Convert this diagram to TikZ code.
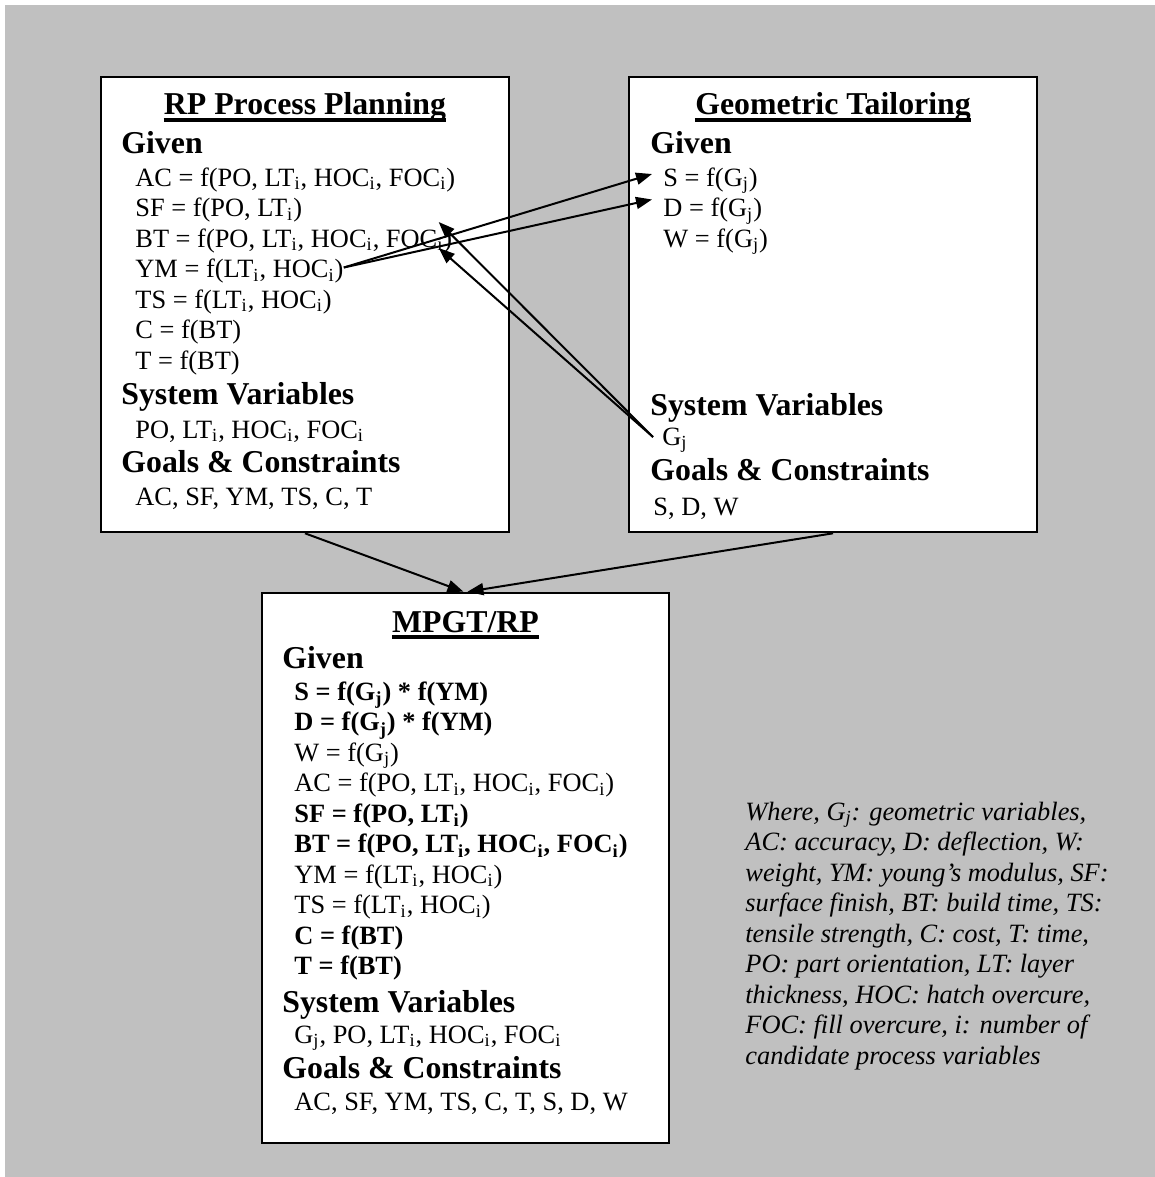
\documentclass[tikz,border=0pt]{standalone}
\usepackage{fontspec}
\setmainfont{Liberation Serif}
\usetikzlibrary{arrows.meta,fit}
\definecolor{bggrey}{RGB}{192,192,192}
\begin{document}
\begin{tikzpicture}[x=0.5pt,y=-0.5pt,
  panel/.style={draw=black, line width=1.3pt, fill=white, inner sep=0pt},
  ttl/.style={anchor=base, inner sep=0pt, font=\fontsize{15.9}{19}\selectfont\bfseries},
  head/.style={anchor=base west, inner sep=0pt, font=\fontsize{15.9}{19}\selectfont\bfseries},
  body/.style={anchor=base west, inner sep=0pt, font=\fontsize{13.2}{15}\selectfont},
  bbody/.style={body, font=\fontsize{13.2}{15}\selectfont\bfseries},
  note/.style={anchor=base west, inner sep=0pt, font=\fontsize{13.2}{15}\selectfont\itshape},
  link/.style={line width=1pt, -{Triangle[length=8pt,width=6pt]}},
  uline/.style={line width=1.6pt}
]
\useasboundingbox (0,0) rectangle (1155,1177);
\fill[bggrey] (5,5) rectangle (1155,1177);

% the three panels
\node[panel, fit={(101,77) (509,532)}] (rp) {};
\node[panel, fit={(629,77) (1037,532)}] (gt) {};
\node[panel, fit={(262,593) (669,1143)}] (mp) {};

% RP Process Planning
\node[ttl] (rpTitle) at (305,115) {RP Process Planning};
\draw[uline] ([yshift=-2.5pt]rpTitle.base west) -- ([yshift=-2.5pt]rpTitle.base east);
\node[head] (rpGiven) at (121,154) {Given};
\node[body] (rpAC) at (135,186) {AC = f(PO, LT\textsubscript{i}, HOC\textsubscript{i}, FOC\textsubscript{i})};
\node[body] (rpSF) at (135,216.5) {SF = f(PO, LT\textsubscript{i})};
\node[body] (rpBT) at (135,247) {BT = f(PO, LT\textsubscript{i}, HOC\textsubscript{i}, FOC\textsubscript{i})};
\node[body] (rpYM) at (135,277.5) {YM = f(LT\textsubscript{i}, HOC\textsubscript{i})};
\node[body] (rpTS) at (135,308) {TS = f(LT\textsubscript{i}, HOC\textsubscript{i})};
\node[body] (rpC) at (135,338.5) {C = f(BT)};
\node[body] (rpTime) at (135,369) {T = f(BT)};
\node[head] (rpSys) at (121,404) {System Variables};
\node[body] (rpVars) at (135,438) {PO, LT\textsubscript{i}, HOC\textsubscript{i}, FOC\textsubscript{i}};
\node[head] (rpGoals) at (121,472) {Goals \& Constraints};
\node[body] (rpGoalList) at (135,505) {AC, SF, YM, TS, C, T};

% Geometric Tailoring
\node[ttl] (gtTitle) at (833,115) {Geometric Tailoring};
\draw[uline] ([yshift=-2.5pt]gtTitle.base west) -- ([yshift=-2.5pt]gtTitle.base east);
\node[head] (gtGiven) at (650,154) {Given};
\node[body] (gtS) at (663,186) {S = f(G\textsubscript{j})};
\node[body] (gtD) at (663,216.5) {D = f(G\textsubscript{j})};
\node[body] (gtW) at (663,247) {W = f(G\textsubscript{j})};
\node[head] (gtSys) at (650,415) {System Variables};
\node[body] (gtG) at (662,445) {G\textsubscript{j}};
\node[head] (gtGoals) at (650,480) {Goals \& Constraints};
\node[body] (gtGoalList) at (653,515) {S, D, W};

% MPGT/RP
\node[ttl] (mpTitle) at (465.5,632) {MPGT/RP};
\draw[uline] ([yshift=-2.5pt]mpTitle.base west) -- ([yshift=-2.5pt]mpTitle.base east);
\node[head] (mpGiven) at (282,668) {Given};
\node[bbody] (mpS) at (294,700) {S = f(G\textsubscript{j}) * f(YM)};
\node[bbody] (mpD) at (294,730.5) {D = f(G\textsubscript{j}) * f(YM)};
\node[body] (mpW) at (294,761) {W = f(G\textsubscript{j})};
\node[body] (mpAC) at (294,791.5) {AC = f(PO, LT\textsubscript{i}, HOC\textsubscript{i}, FOC\textsubscript{i})};
\node[bbody] (mpSF) at (294,822) {SF = f(PO, LT\textsubscript{i})};
\node[bbody] (mpBT) at (294,852.5) {BT = f(PO, LT\textsubscript{i}, HOC\textsubscript{i}, FOC\textsubscript{i})};
\node[body] (mpYM) at (294,883) {YM = f(LT\textsubscript{i}, HOC\textsubscript{i})};
\node[body] (mpTS) at (294,913.5) {TS = f(LT\textsubscript{i}, HOC\textsubscript{i})};
\node[bbody] (mpC) at (294,944) {C = f(BT)};
\node[bbody] (mpTime) at (294,974.5) {T = f(BT)};
\node[head] (mpSys) at (282,1012) {System Variables};
\node[body] (mpVars) at (294,1043) {G\textsubscript{j}, PO, LT\textsubscript{i}, HOC\textsubscript{i}, FOC\textsubscript{i}};
\node[head] (mpGoals) at (282,1078) {Goals \& Constraints};
\node[body] (mpGoalList) at (294,1110) {AC, SF, YM, TS, C, T, S, D, W};

% legend
\node[note] (n1) at (745,820) {Where, G\textsubscript{j}: geometric variables,};
\node[note] (n2) at (745,850.5) {AC: accuracy, D: deflection, W:};
\node[note] (n3) at (745,881) {weight, YM: young’s modulus, SF:};
\node[note] (n4) at (745,911.5) {surface finish, BT: build time, TS:};
\node[note] (n5) at (745,942) {tensile strength, C: cost, T: time,};
\node[note] (n6) at (745,972.5) {PO: part orientation, LT: layer};
\node[note] (n7) at (745,1003) {thickness, HOC: hatch overcure,};
\node[note] (n8) at (745,1033.5) {FOC: fill overcure, i: number of};
\node[note] (n9) at (745,1064) {candidate process variables};

% links between the panels
\draw[link] ([yshift=5pt]rpYM.base east) -- ([xshift=-5.5pt,yshift=6pt]gtS.base west);
\draw[link] ([yshift=5pt]rpYM.base east) -- ([xshift=-5.5pt,yshift=8.5pt]gtD.base west);
\draw[link] ([xshift=-4.5pt,yshift=4pt]gtG.base west) -- ([xshift=-7pt,yshift=12.5pt]rpBT.base east);
\draw[link] ([xshift=-4.5pt,yshift=4pt]gtG.base west) -- ([xshift=-7pt,yshift=-0.5pt]rpBT.base east);
\draw[link] (rp.south) -- ([xshift=-1pt]mp.north);
\draw[link] (gt.south) -- ([xshift=1pt]mp.north);
\end{tikzpicture}
\end{document}
